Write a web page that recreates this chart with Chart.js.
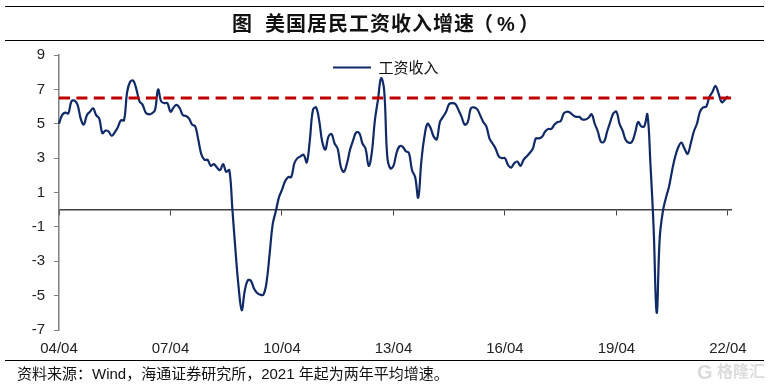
<!DOCTYPE html>
<html>
<head>
<meta charset="utf-8">
<script src="https://cdn.jsdelivr.net/npm/chart.js@4"></script>
<style>
  html, body { margin: 0; padding: 0; background: #fff; }
  #wrap { position: relative; width: 770px; height: 388px; overflow: hidden; font-family: "Liberation Sans", "Noto Sans CJK SC", sans-serif; }
  canvas { position: absolute; left: 0; top: 0; }
  .rule { position: absolute; left: 5px; width: 759px; height: 1px; background: #000; }
  .title { position: absolute; top: 12px; font-size: 20px; line-height: 24px; font-weight: 700; letter-spacing: 1px; color: #111; white-space: pre; }
  .source { position: absolute; left: 17px; top: 365px; font-size: 15px; line-height: 18px; color: #111; white-space: pre; }
  .mark { position: absolute; top: 361px; font-size: 16px; line-height: 22px; font-weight: 700; color: #dcdcdc; white-space: pre; }
</style>
</head>
<body>
<div id="wrap">
  <canvas id="chart" width="770" height="388"></canvas>
  <div class="rule" style="top:6px"></div>
  <div class="rule" style="top:40px"></div>
  <div class="rule" style="top:360px"></div>
  <div class="title" style="left:232px">图</div>
  <div class="title" style="left:265px">美国居民工资收入增速</div>
  <div class="title" style="left:473px">（</div>
  <div class="title" style="left:497px">%</div>
  <div class="title" style="left:519px">）</div>
  <div class="source">资料来源：Wind，海通证券研究所，2021 年起为两年平均增速。</div>
  <div class="mark" style="left:697px;font-size:20px">G</div>
  <div class="mark" style="left:717px">格隆汇</div>
</div>
<script>
const seriesName = '工资收入';
const wageGrowth = [
  5.0, 5.5, 5.65, 5.6, 6.3, 6.35, 6.1, 5.3, 4.95, 5.5, 5.7, 5.9,
  5.5, 5.3, 4.45, 4.6, 4.55, 4.3, 4.5, 4.8, 5.2, 5.2, 6.85, 7.45,
  7.5, 7.0, 6.3, 6.1, 5.65, 5.55, 5.6, 5.8, 7.0, 6.3, 6.2, 6.2,
  5.7, 5.95, 6.1, 5.9, 5.5, 5.45, 5.3, 4.95, 4.85, 4.05, 3.2, 2.9,
  2.9, 2.55, 2.65, 2.45, 2.3, 2.65, 2.2, 2.3, 0.0, -2.4, -4.5, -5.85,
  -4.7, -4.1, -4.15, -4.6, -4.85, -4.95, -4.95, -4.25, -2.6, -0.85, -0.1, 0.7,
  1.15, 1.65, 1.9, 1.9, 2.7, 3.0, 3.1, 3.2, 2.75, 4.05, 5.8, 5.95,
  5.2, 3.95, 3.5, 4.25, 4.4, 3.85, 3.55, 2.5, 2.2, 2.7, 3.5, 4.05,
  4.5, 4.45, 3.85, 3.55, 2.55, 3.3, 5.2, 6.4, 7.65, 6.95, 3.1, 2.4,
  2.55, 3.3, 3.7, 3.65, 3.4, 3.3, 2.3, 1.9, 0.7, 2.8, 4.25, 5.0,
  4.75, 4.25, 4.1, 5.1, 5.4, 5.7, 6.15, 6.2, 6.15, 5.8, 5.4, 4.95,
  5.1, 5.9, 5.95, 5.85, 5.5, 5.1, 4.85, 4.15, 3.85, 3.55, 3.1, 3.0,
  3.0, 2.6, 2.45, 2.7, 2.8, 2.55, 2.9, 3.1, 3.3, 3.55, 4.15, 4.15,
  4.25, 4.55, 4.7, 4.7, 4.95, 5.1, 5.15, 5.6, 5.7, 5.65, 5.5, 5.4,
  5.4, 5.25, 5.25, 5.35, 5.55, 5.0, 4.55, 3.95, 3.95, 4.55, 5.1, 5.6,
  5.7, 5.0, 4.6, 4.05, 3.9, 3.95, 4.45, 5.1, 4.85, 4.85, 5.55, 2.6,
  -1.0, -6.0, -1.6, -0.1, 0.7, 1.35, 2.3, 3.1, 3.65, 3.9, 3.55, 3.25,
  3.85, 4.55, 5.0, 5.7, 5.95, 6.0, 6.55, 6.85, 7.2, 6.75, 6.25, 6.4,
  6.6
];
const referenceLevel = 6.5;
const yTicks = [9, 7, 5, 3, 1, -1, -3, -5, -7];

// monthly labels from 04/04 to 22/05, one spare month past the last tick
const categories = [];
for (let i = 0; i < 218; i++) {
  const m = 3 + i;
  const yy = String(4 + Math.floor(m / 12)).padStart(2, '0');
  const mm = String(m % 12 + 1).padStart(2, '0');
  categories.push(yy + '/' + mm);
}

const navy = '#0f2a66';
const red = '#c00000';
const tickFont = { family: '"Liberation Sans", Arial, sans-serif', size: 15 };

function everyThreeYears(scale) {
  scale.ticks = scale.ticks.filter(t => t.value % 36 === 0);
}

// the legend sits inside the plot, near the top middle
const moveLegend = {
  id: 'moveLegend',
  afterLayout(chart) {
    chart.legend.left += 271;
    chart.legend.right += 271;
    chart.legend.top -= 70;
    chart.legend.bottom -= 70;
  }
};

new Chart(document.getElementById('chart'), {
  type: 'line',
  plugins: [moveLegend],
  data: {
    labels: categories,
    datasets: [
      {
        label: seriesName,
        data: wageGrowth,
        borderColor: navy,
        backgroundColor: navy,
        borderWidth: 2.2,
        pointRadius: 0,
        pointStyle: 'line',
        tension: 0.4,
        order: 2
      },
      {
        label: 'level',
        data: categories.map(() => referenceLevel),
        borderColor: red,
        borderWidth: 3,
        borderDash: [11, 6.4],
        pointRadius: 0,
        order: 1
      }
    ]
  },
  options: {
    responsive: false,
    animation: false,
    layout: { padding: { left: 0, right: 39, top: 55, bottom: 0 } },
    plugins: {
      tooltip: { enabled: false },
      legend: {
        position: 'chartArea',
        align: 'center',
        labels: {
          color: '#111',
          font: { family: '"Noto Sans CJK SC", sans-serif', size: 15 },
          usePointStyle: true,
          pointStyleWidth: 38,
          padding: 3,
          filter: item => item.text === seriesName
        }
      }
    },
    scales: {
      x: {
        position: 'bottom',
        border: { display: false },
        grid: { display: false },
        afterBuildTicks: everyThreeYears,
        afterFit(scale) { scale.height = 58; },
        ticks: { color: '#222', font: tickFont, autoSkip: false, maxRotation: 0, padding: 2 }
      },
      zeroAxis: {
        axis: 'x',
        type: 'category',
        position: { y: 0 },
        border: { color: '#404040', width: 1.5 },
        grid: { drawOnChartArea: false, tickLength: 5, color: '#404040' },
        afterBuildTicks: everyThreeYears,
        ticks: { display: false, autoSkip: false }
      },
      y: {
        min: -7,
        max: 9,
        afterBuildTicks(scale) { scale.ticks = yTicks.map(v => ({ value: v })); },
        afterFit(scale) { scale.width = 59; },
        border: { color: '#808080', width: 1.5 },
        grid: { drawOnChartArea: false, tickLength: 5, color: '#808080' },
        ticks: { color: '#222', font: tickFont, padding: 9 }
      }
    }
  }
});
</script>
</body>
</html>
